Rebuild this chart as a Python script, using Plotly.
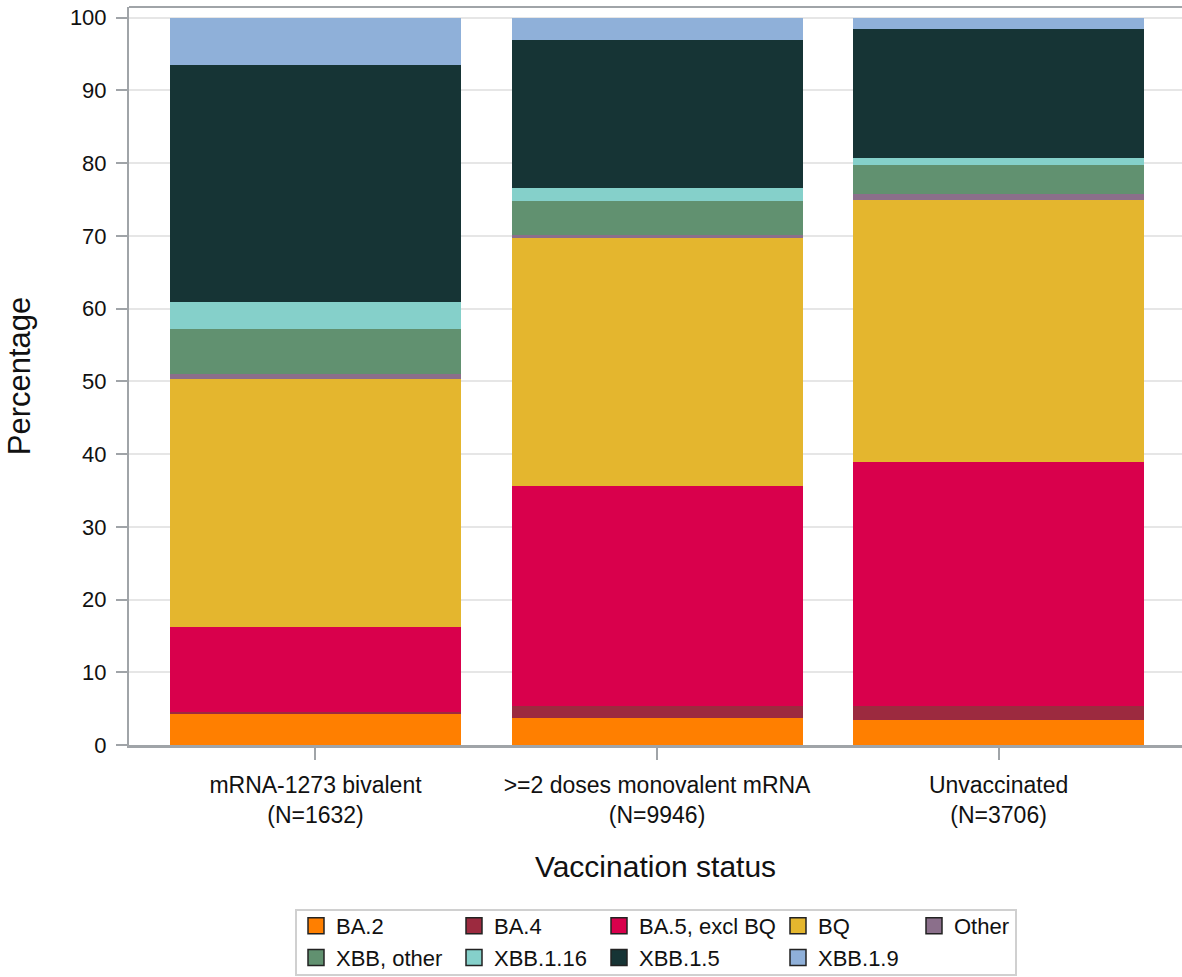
import plotly.graph_objects as go

categories = ["mRNA-1273 bivalent<br>(N=1632)",
              ">=2 doses monovalent mRNA<br>(N=9946)",
              "Unvaccinated<br>(N=3706)"]

variants = ["BA.2", "BA.4", "BA.5, excl BQ", "BQ", "Other",
            "XBB, other", "XBB.1.16", "XBB.1.5", "XBB.1.9"]

ba2 = [4.2, 3.7, 3.5]
ba4 = [0.3, 1.65, 1.9]
ba5_excl_bq = [11.7, 30.3, 33.5]
bq = [34.1, 34.0, 36.0]
other = [0.7, 0.45, 0.85]
xbb_other = [6.2, 4.65, 4.0]
xbb_1_16 = [3.7, 1.8, 0.95]
xbb_1_5 = [32.6, 20.4, 17.75]
xbb_1_9 = [6.5, 3.05, 1.55]

series = [ba2, ba4, ba5_excl_bq, bq, other, xbb_other, xbb_1_16, xbb_1_5, xbb_1_9]

colors = ["#FF7F00", "#9C2A3F", "#D9004C", "#E4B62E", "#8B6F8B",
          "#619170", "#85D0CA", "#163435", "#8FB0D9"]

y_ticks = [0, 10, 20, 30, 40, 50, 60, 70, 80, 90, 100]

FONT = "Liberation Sans, Arial, sans-serif"
W, H = 1182, 977
L, R, T, B = 129, 0, 7, 232
PW, PH = W - L - R, H - T - B


def px_x(px):
    return (px - L) / PW


def px_y(py):
    return (H - B - py) / PH


fig = go.Figure()
for name, vals, col in zip(variants, series, colors):
    fig.add_trace(go.Bar(x=categories, y=vals, name=name, width=0.852,
                         marker=dict(color=col, line=dict(width=0)),
                         showlegend=False))

# legend columns (row1 / row2)
legend_cols = [[0, 5], [1, 6], [2, 7], [3, 8], [4]]
col_left_px = [296, 454, 599, 778, 914]
for ci, idxs in enumerate(legend_cols):
    lname = "legend" if ci == 0 else f"legend{ci + 1}"
    for i in idxs:
        fig.add_trace(go.Scatter(x=[None], y=[None], mode="markers", name=variants[i],
                                 marker=dict(symbol="square", size=16, color=colors[i],
                                             line=dict(color="#222222", width=1.5)),
                                 legend=lname, showlegend=True))

legend_common = dict(orientation="v", xanchor="left", yanchor="top",
                     bgcolor="rgba(0,0,0,0)", borderwidth=0,
                     font=dict(family=FONT, size=22, color="#111111"),
                     tracegroupgap=0, traceorder="normal")
legend_layout = {}
for ci in range(len(legend_cols)):
    lname = "legend" if ci == 0 else f"legend{ci + 1}"
    legend_layout[lname] = dict(legend_common, x=px_x(col_left_px[ci]), y=px_y(905))

fig.update_layout(
    width=W, height=H,
    margin=dict(l=L, r=R, t=T, b=B, autoexpand=False),
    paper_bgcolor="white", plot_bgcolor="white",
    barmode="stack", bargap=0.15,
    font=dict(family=FONT, size=22, color="#111111"),
    shapes=[dict(type="rect", xref="paper", yref="paper",
                 x0=px_x(296), x1=px_x(1016), y0=px_y(975), y1=px_y(910),
                 line=dict(color="#D0D0D0", width=2), fillcolor="rgba(0,0,0,0)")],
    **legend_layout,
)

fig.update_xaxes(range=[-0.546, 2.537], showline=True, linecolor="#A0A4A8", linewidth=3,
                 mirror=False, ticks="outside", ticklen=12, tickcolor="#A0A4A8", tickwidth=2,
                 tickfont=dict(family=FONT, size=23, color="#111111"), ticklabelstandoff=5,
                 showgrid=False,
                 title=dict(text="Vaccination status", font=dict(family=FONT, size=30, color="#111111"),
                            standoff=30))
fig.update_yaxes(range=[0, 101.47], tickvals=y_ticks, showline=True, linecolor="#A0A4A8",
                 linewidth=2, ticks="outside", ticklen=11, tickcolor="#A0A4A8", tickwidth=2,
                 tickfont=dict(family=FONT, size=22, color="#111111"), ticklabelstandoff=5,
                 showgrid=True, gridcolor="#E6E6E6", gridwidth=2, zeroline=False,
                 title=dict(text="Percentage", font=dict(family=FONT, size=31, color="#111111"),
                            standoff=30))

# top frame line
fig.add_shape(type="line", xref="paper", yref="paper", x0=0, x1=1, y0=1, y1=1,
              line=dict(color="#A0A4A8", width=2))

fig.write_html("out.html", config={"displayModeBar": False},
               post_script="document.body.style.margin='0';document.body.style.overflow='hidden';")
